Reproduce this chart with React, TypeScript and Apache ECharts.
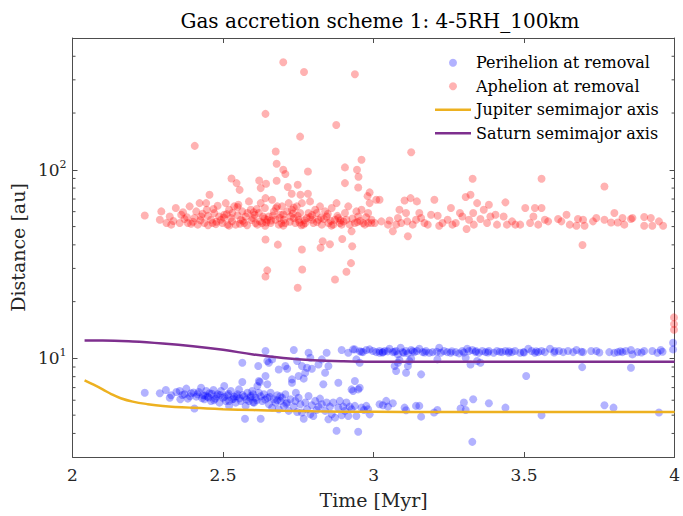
import React, { useEffect, useRef } from "react";
import * as echarts from "echarts";

const X_MIN = 2;
const X_MAX = 4;
const Y_MIN = 3;
const Y_MAX = 500;
const xTicks = [2, 2.5, 3, 3.5, 4];
const minorTickValues = [4, 5, 6, 7, 8, 9, 20, 30, 40, 50, 60, 70, 80, 90, 200, 300, 400];

const jupiterTime = [2.04, 2.07, 2.1, 2.13, 2.16, 2.2, 2.25, 2.3, 2.4, 2.5, 2.6, 2.7, 2.8, 2.9, 3.0, 3.2, 3.5, 4.0];
const jupiterA = [7.65, 7.25, 6.85, 6.45, 6.15, 5.9, 5.72, 5.6, 5.47, 5.38, 5.32, 5.27, 5.24, 5.22, 5.21, 5.2, 5.2, 5.2];

const saturnTime = [2.04, 2.1, 2.2, 2.3, 2.4, 2.5, 2.6, 2.7, 2.8, 2.9, 3.0, 3.5, 4.0];
const saturnA = [12.45, 12.45, 12.3, 12.0, 11.6, 11.1, 10.5, 10.05, 9.78, 9.65, 9.6, 9.6, 9.6];

const aphelionPoints: number[][] = [
  [2.240, 57.3], [2.295, 60.2], [2.290, 54.4], [2.312, 52.2], [2.323, 56.6], [2.328, 51.2], [2.343, 62.7], [2.356, 52.2],
  [2.361, 57.8], [2.367, 59.5], [2.383, 52.2], [2.389, 64.0], [2.394, 51.8], [2.405, 55.5], [2.411, 60.2], [2.416, 51.2],
  [2.422, 66.6], [2.427, 56.6], [2.438, 52.2], [2.444, 66.6], [2.446, 61.4], [2.455, 73.8], [2.460, 54.4], [2.465, 52.2],
  [2.471, 59.0], [2.482, 64.5], [2.487, 56.6], [2.493, 54.4], [2.498, 52.2], [2.504, 57.8], [2.509, 66.6], [2.515, 51.2],
  [2.520, 61.4], [2.526, 55.5], [2.531, 59.0], [2.537, 64.0], [2.542, 51.2], [2.551, 65.3], [2.559, 54.4], [2.564, 60.2],
  [2.570, 52.2], [2.575, 56.6], [2.581, 59.0], [2.586, 68.0], [2.592, 61.4], [2.599, 55.5], [2.608, 52.2], [2.614, 51.2],
  [2.619, 59.0], [2.625, 66.6], [2.630, 52.2], [2.633, 56.6], [2.639, 62.7], [2.641, 70.8], [2.647, 54.4], [2.652, 56.6],
  [2.658, 52.2], [2.663, 69.4], [2.669, 60.2], [2.674, 54.4], [2.680, 64.0], [2.685, 51.2], [2.691, 57.8], [2.696, 64.0],
  [2.702, 54.4], [2.707, 52.2], [2.713, 60.2], [2.718, 66.6], [2.724, 56.6], [2.729, 61.4], [2.735, 55.5], [2.740, 52.2],
  [2.745, 64.0], [2.751, 54.4], [2.756, 59.0], [2.762, 66.6], [2.767, 51.2], [2.773, 52.2], [2.778, 55.5], [2.784, 59.0],
  [2.789, 68.0], [2.795, 54.4], [2.800, 52.2], [2.806, 61.4], [2.811, 59.0], [2.817, 54.4], [2.822, 64.0], [2.828, 51.2],
  [2.839, 60.2], [2.844, 56.6], [2.850, 52.2], [2.861, 62.7], [2.866, 51.2], [2.872, 54.4], [2.877, 66.6], [2.883, 55.5],
  [2.888, 52.2], [2.894, 51.2], [2.905, 59.0], [2.910, 54.4], [2.916, 64.0], [2.921, 51.2], [2.927, 47.2], [2.938, 52.2],
  [2.943, 60.2], [2.949, 56.6], [2.960, 61.4], [2.965, 52.2], [2.971, 51.2], [2.982, 52.2], [2.993, 54.4], [3.004, 52.2],
  [3.009, 69.4],
  [2.335, 53.5], [2.372, 54.8], [2.400, 53.0], [2.425, 54.0], [2.450, 57.0], [2.478, 53.0], [2.502, 55.8], [2.530, 53.4],
  [2.548, 57.4], [2.565, 53.6], [2.595, 54.2], [2.605, 57.6], [2.622, 53.4], [2.638, 55.2], [2.660, 53.8], [2.688, 55.6],
  [2.700, 58.0], [2.722, 53.0], [2.748, 57.0], [2.770, 54.0], [2.790, 56.2], [2.812, 52.8], [2.835, 54.8], [2.858, 53.6],
  [2.880, 57.0], [2.900, 53.2], [2.930, 55.2], [2.955, 53.6], [2.975, 56.0], [2.640, 50.5], [2.580, 50.8], [2.700, 50.6],
  [2.760, 50.8], [2.520, 50.6], [2.450, 50.8], [2.860, 50.6], [2.612, 62.0], [2.548, 63.5], [2.676, 62.5], [2.735, 63.0],
  [2.468, 62.0],
  [2.380, 56.0], [2.432, 58.5], [2.476, 51.5], [2.512, 58.2], [2.556, 51.8], [2.602, 59.6], [2.644, 52.6], [2.666, 57.2],
  [2.694, 52.0], [2.732, 58.6], [2.754, 52.6], [2.796, 57.6], [2.826, 55.8], [2.848, 58.4], [2.890, 54.0], [2.946, 52.8],
  [2.545, 85.0], [2.555, 78.3], [2.643, 84.4], [2.625, 80.0], [2.678, 87.5], [2.715, 81.0], [2.728, 74.6], [2.748, 83.3],
  [2.782, 98.0], [2.757, 73.8], [2.782, 74.6], [2.905, 85.0], [2.949, 80.6], [2.980, 72.5],
  [2.641, 42.7], [2.682, 40.1], [2.762, 37.8], [2.831, 41.8], [2.824, 38.6], [2.855, 40.3], [2.896, 43.0], [2.929, 39.3],
  [2.647, 29.3], [2.641, 27.2], [2.763, 29.6], [2.925, 32.0], [2.910, 28.8], [2.872, 26.2], [2.748, 23.7],
  [2.700, 372], [2.769, 330], [2.938, 321], [2.641, 198], [2.876, 173], [2.756, 150], [2.406, 134], [3.125, 124],
  [2.675, 125], [2.960, 113], [2.678, 107.6], [2.700, 100], [2.707, 95], [2.905, 103], [2.945, 100], [2.950, 91.8],
  [2.528, 90], [2.620, 87.8],
  [2.987, 75.9], [2.987, 66.6], [2.982, 59.0], [2.993, 52.2], [3.020, 69.4], [3.026, 53.3], [3.048, 51.2], [3.053, 53.9],
  [3.064, 47.2], [3.075, 51.2], [3.081, 55.5], [3.086, 61.4], [3.092, 52.2], [3.103, 68.8], [3.108, 59.0], [3.112, 53.3],
  [3.114, 44.4], [3.123, 70.8], [3.130, 51.2], [3.141, 54.4], [3.144, 68.0], [3.152, 59.0], [3.158, 55.5], [3.169, 52.2],
  [3.180, 51.2], [3.191, 57.8], [3.202, 69.4], [3.213, 57.1], [3.218, 50.5], [3.229, 52.2], [3.246, 54.4], [3.257, 62.7],
  [3.262, 51.2], [3.273, 52.2], [3.287, 59.0], [3.295, 56.6], [3.306, 71.7], [3.309, 48.5], [3.317, 54.4], [3.322, 73.8],
  [3.331, 59.0], [3.333, 51.2], [3.344, 66.6], [3.355, 54.8], [3.366, 61.4], [3.377, 52.2], [3.383, 65.3], [3.388, 56.6],
  [3.405, 57.8], [3.410, 51.2], [3.432, 56.6], [3.438, 67.2], [3.443, 51.2], [3.460, 53.3], [3.471, 51.2], [3.487, 51.2],
  [3.504, 62.7], [3.520, 52.2], [3.531, 56.6], [3.536, 62.7], [3.547, 51.2], [3.558, 62.7], [3.569, 54.4], [3.580, 53.3],
  [3.613, 54.8], [3.624, 53.3], [3.641, 57.8], [3.652, 51.2], [3.674, 50.5], [3.679, 54.8], [3.701, 50.5], [3.696, 54.4],
  [3.729, 53.3], [3.740, 55.5], [3.767, 54.4], [3.789, 52.6], [3.800, 59.0], [3.811, 52.6], [3.827, 55.5], [3.833, 51.2],
  [3.855, 54.8], [3.860, 55.5], [3.899, 56.2], [3.899, 50.5], [3.921, 55.5], [3.926, 50.5], [3.948, 53.3], [3.962, 50.5],
  [3.329, 89.6], [3.558, 89.6], [3.767, 81.6], [3.694, 39.9],
  [3.998, 16.5], [3.998, 15.2], [3.998, 14.2],
];

const perihelionPoints: number[][] = [
  [2.240, 6.58], [2.290, 6.53], [2.310, 6.80], [2.323, 6.19], [2.328, 6.37], [2.345, 6.63], [2.356, 6.71], [2.358, 6.07],
  [2.372, 6.45], [2.378, 6.91], [2.383, 6.12], [2.394, 6.53], [2.405, 5.42], [2.411, 6.27], [2.419, 6.63], [2.427, 6.99],
  [2.433, 6.37], [2.438, 6.07], [2.444, 6.71], [2.449, 6.27], [2.455, 6.53], [2.460, 5.95], [2.468, 6.80], [2.474, 6.12],
  [2.482, 6.45], [2.488, 5.83], [2.493, 6.71], [2.499, 6.19], [2.504, 7.14], [2.509, 5.95], [2.515, 6.37], [2.520, 5.60],
  [2.526, 6.71], [2.531, 6.07], [2.537, 6.27], [2.542, 5.83], [2.548, 6.45], [2.553, 6.85], [2.559, 5.95], [2.564, 7.49],
  [2.570, 6.27], [2.573, 4.79], [2.575, 5.60], [2.581, 6.58], [2.586, 5.95], [2.592, 6.32], [2.597, 6.71], [2.603, 5.83],
  [2.608, 6.19], [2.614, 7.14], [2.619, 6.58], [2.622, 7.49], [2.625, 4.79], [2.630, 5.95], [2.636, 6.45], [2.641, 8.06],
  [2.647, 7.29], [2.647, 6.19], [2.652, 5.71], [2.658, 6.58], [2.663, 5.48], [2.669, 6.07], [2.674, 5.83], [2.680, 6.37],
  [2.685, 5.37], [2.691, 5.95], [2.696, 6.19], [2.702, 5.60], [2.707, 6.45], [2.713, 5.83], [2.718, 5.27], [2.724, 6.07],
  [2.729, 7.74], [2.735, 5.55], [2.740, 5.95], [2.742, 6.58], [2.746, 5.20], [2.751, 6.19], [2.757, 5.71], [2.762, 5.16],
  [2.768, 4.79], [2.773, 5.83], [2.779, 5.37], [2.784, 6.32], [2.790, 5.05], [2.795, 5.64], [2.800, 4.95], [2.806, 5.95],
  [2.811, 5.33], [2.817, 5.55], [2.822, 6.12], [2.828, 5.71], [2.833, 7.29], [2.839, 5.27], [2.844, 5.83], [2.850, 4.76],
  [2.855, 5.55], [2.861, 5.05], [2.866, 5.83], [2.872, 4.85], [2.877, 4.13], [2.883, 5.48], [2.888, 5.95], [2.894, 4.99],
  [2.899, 5.55], [2.905, 5.27], [2.910, 5.83], [2.916, 4.95], [2.921, 5.55], [2.927, 5.37], [2.932, 6.71], [2.938, 5.60],
  [2.943, 4.95], [2.949, 4.08], [2.954, 6.99], [2.960, 5.48], [2.968, 5.33], [2.976, 5.60], [2.982, 5.37], [2.987, 5.05],
  [3.020, 5.71], [3.031, 5.64], [3.042, 5.95],
  [2.365, 6.40], [2.390, 6.30], [2.402, 6.60], [2.415, 6.45], [2.440, 6.35], [2.452, 6.20], [2.463, 6.50], [2.478, 6.30],
  [2.490, 6.40], [2.505, 6.25], [2.518, 6.50], [2.535, 6.10], [2.545, 6.30], [2.555, 6.15], [2.565, 6.40], [2.578, 6.05],
  [2.590, 6.20], [2.600, 6.45], [2.612, 6.00], [2.625, 6.30], [2.640, 6.05], [2.655, 6.25], [2.470, 6.00], [2.430, 6.15],
  [2.520, 5.95], [2.600, 5.85], [2.680, 6.00], [2.710, 5.75], [2.690, 6.30],
  [2.564, 9.49], [2.617, 9.11], [2.641, 10.94], [2.647, 9.68], [2.619, 7.59], [2.652, 9.49], [2.663, 9.88], [2.685, 8.74],
  [2.707, 9.11], [2.713, 8.82], [2.729, 7.43], [2.735, 11.07], [2.746, 9.68], [2.751, 8.06], [2.762, 9.11], [2.768, 7.81],
  [2.773, 8.40], [2.779, 8.92], [2.784, 10.71], [2.790, 10.08], [2.795, 8.82], [2.817, 9.29], [2.828, 9.88], [2.839, 8.40],
  [2.844, 10.71], [2.850, 9.11], [2.883, 7.43], [2.894, 11.07], [2.916, 10.71], [2.927, 6.85], [2.932, 11.16], [2.938, 7.59],
  [2.943, 9.88], [2.949, 6.85], [2.954, 9.49], [2.960, 10.84],
  [2.938, 11.16], [2.954, 10.9], [2.965, 10.80], [2.976, 11.07], [2.987, 11.16], [2.998, 10.94], [3.009, 10.80], [3.020, 10.94],
  [3.031, 10.80], [3.047, 10.9],
  [3.020, 10.71], [3.037, 10.94], [3.053, 11.25], [3.064, 10.80], [3.075, 10.94], [3.081, 10.50], [3.090, 11.39], [3.097, 10.80],
  [3.108, 10.94], [3.114, 10.63], [3.125, 11.07], [3.136, 10.80], [3.144, 10.94], [3.152, 11.25], [3.163, 10.80], [3.174, 10.94],
  [3.185, 10.71], [3.196, 10.80], [3.218, 11.39], [3.223, 10.71], [3.234, 10.94], [3.245, 10.80], [3.256, 10.71], [3.273, 10.80],
  [3.284, 10.63], [3.295, 10.94], [3.311, 11.25], [3.317, 10.94], [3.328, 11.07], [3.339, 10.80], [3.350, 10.71], [3.361, 10.94],
  [3.372, 10.80], [3.383, 10.94], [3.399, 10.71], [3.410, 10.94], [3.427, 10.80], [3.438, 10.94], [3.449, 10.71], [3.460, 10.80],
  [3.470, 10.94], [3.487, 10.71], [3.498, 10.80], [3.514, 11.25], [3.525, 10.94], [3.536, 10.71], [3.547, 10.80], [3.558, 10.94],
  [3.569, 10.80], [3.586, 11.25], [3.602, 10.94], [3.616, 10.94], [3.630, 10.80], [3.646, 10.94], [3.663, 10.80], [3.674, 11.07],
  [3.696, 10.80], [3.723, 10.94], [3.740, 10.94], [3.783, 10.80], [3.800, 10.71], [3.811, 10.80], [3.827, 10.80], [3.838, 10.94],
  [3.855, 11.07], [3.860, 10.50], [3.877, 10.80], [3.899, 10.94], [3.926, 10.94], [3.943, 10.71], [3.954, 11.07], [3.995, 12.1],
  [3.995, 11.16],
  [3.03, 10.75], [3.07, 10.85], [3.10, 10.7], [3.13, 10.9], [3.17, 10.75], [3.21, 10.85], [3.26, 10.9], [3.30, 10.75],
  [3.34, 10.95], [3.38, 10.75], [3.42, 10.85], [3.45, 10.9], [3.50, 10.75], [3.54, 10.9], [3.60, 10.75], [3.69, 10.85],
  [3.75, 10.75], [3.82, 10.9], [3.89, 10.75], [3.96, 10.85],
  [3.070, 9.11], [3.075, 8.57], [3.081, 9.49], [3.086, 9.80], [3.108, 8.40], [3.114, 9.11], [3.119, 9.68], [3.125, 9.96],
  [3.158, 8.23], [3.212, 9.88], [3.306, 10.08], [3.322, 9.29], [3.344, 9.68], [3.355, 9.49], [3.507, 8.06], [3.693, 8.99],
  [3.855, 8.92],
  [3.048, 5.55], [3.064, 5.78], [3.103, 5.48], [3.108, 5.31], [3.141, 5.60], [3.152, 5.60], [3.158, 4.91], [3.201, 5.16],
  [3.212, 5.33], [3.289, 5.42], [3.300, 5.83], [3.306, 5.33], [3.331, 6.07], [3.328, 3.61], [3.383, 5.78], [3.438, 5.48],
  [3.558, 4.99], [3.767, 5.64], [3.797, 5.48], [3.948, 5.16],
];

const FONT = "'DejaVu Serif', 'Liberation Serif', serif";
const AXIS_COLOR = "#4d4d4d";
const TEXT_COLOR = "#262626";
const LINE_ICON = "path://M0,0 L36,0 L36,2.5 L0,2.5 Z";

export default function App() {
  const ref = useRef<HTMLDivElement>(null);

  useEffect(() => {
    if (!ref.current) return;
    const chart = echarts.init(ref.current, undefined, { renderer: "svg" });

    const tickStyle = { show: true, inside: true, length: 5, lineStyle: { color: AXIS_COLOR, width: 1 } };
    const lineStyleAxis = { show: true, onZero: false, lineStyle: { color: AXIS_COLOR, width: 1 } };

    const option: any = {
      animation: false,
      backgroundColor: "#ffffff",
      title: {
        text: "Gas accretion scheme 1: 4-5RH_100km",
        left: 375,
        textAlign: "center",
        top: 6,
        textStyle: { fontFamily: FONT, fontSize: 20, fontWeight: "normal", color: "#000" },
      },
      legend: {
        orient: "vertical",
        left: 435,
        top: 52,
        padding: 0,
        itemWidth: 36,
        itemHeight: 8,
        itemGap: 2,
        textStyle: { fontFamily: FONT, fontSize: 16, color: "#000", lineHeight: 21.5 },
        data: [
          { name: "Perihelion at removal", icon: "circle" },
          { name: "Aphelion at removal", icon: "circle" },
          { name: "Jupiter semimajor axis", icon: LINE_ICON },
          { name: "Saturn semimajor axis", icon: LINE_ICON },
        ],
      },
      grid: { left: 72, right: 5, top: 38, bottom: 59, containLabel: false },
      xAxis: [
        {
          type: "value",
          min: X_MIN,
          max: X_MAX,
          interval: 0.5,
          position: "bottom",
          axisLine: lineStyleAxis,
          axisTick: tickStyle,
          splitLine: { show: false },
          axisLabel: {
            margin: 9,
            fontFamily: FONT,
            fontSize: 17,
            color: TEXT_COLOR,
            formatter: (v: number) => (xTicks.includes(v) ? String(v) : ""),
          },
          name: "Time [Myr]",
          nameLocation: "middle",
          nameGap: 33,
          nameTextStyle: { fontFamily: FONT, fontSize: 19, color: TEXT_COLOR },
        },
        {
          type: "value",
          min: X_MIN,
          max: X_MAX,
          interval: 0.5,
          position: "top",
          axisLine: lineStyleAxis,
          axisTick: tickStyle,
          axisLabel: { show: false },
          splitLine: { show: false },
        },
      ],
      yAxis: [
        {
          type: "log",
          logBase: 10,
          min: Y_MIN,
          max: Y_MAX,
          position: "left",
          axisLine: lineStyleAxis,
          axisTick: tickStyle,
          splitLine: { show: false },
          axisLabel: {
            margin: 6,
            showMinLabel: false,
            showMaxLabel: false,
            fontFamily: FONT,
            color: TEXT_COLOR,
            formatter: (v: number) => {
              const e = Math.log10(v);
              if (Math.abs(e - Math.round(e)) > 1e-6) return "";
              return "{b|10}{s|" + Math.round(e) + "}";
            },
            rich: {
              b: { fontFamily: FONT, fontSize: 17, color: TEXT_COLOR, lineHeight: 22 },
              s: { fontFamily: FONT, fontSize: 11, color: TEXT_COLOR, lineHeight: 11, verticalAlign: "top" },
            },
          },
          name: "Distance [au]",
          nameLocation: "middle",
          nameGap: 42,
          nameTextStyle: { fontFamily: FONT, fontSize: 19, color: TEXT_COLOR },
        },
        {
          type: "log",
          logBase: 10,
          min: Y_MIN,
          max: Y_MAX,
          position: "right",
          axisLine: lineStyleAxis,
          axisTick: tickStyle,
          axisLabel: { show: false },
          splitLine: { show: false },
        },
      ],
      series: [
        {
          name: "Perihelion at removal",
          type: "scatter",
          xAxisIndex: 0,
          yAxisIndex: 0,
          symbol: "circle",
          symbolSize: 8,
          itemStyle: { color: "#0000ff", opacity: 0.3 },
          data: perihelionPoints,
        },
        {
          name: "Aphelion at removal",
          type: "scatter",
          xAxisIndex: 0,
          yAxisIndex: 0,
          symbol: "circle",
          symbolSize: 8,
          itemStyle: { color: "#ff0000", opacity: 0.3 },
          data: aphelionPoints,
        },
        {
          name: "Jupiter semimajor axis",
          type: "line",
          xAxisIndex: 0,
          yAxisIndex: 0,
          symbol: "none",
          showSymbol: false,
          smooth: 0.4,
          lineStyle: { color: "#EDB120", width: 2.5 },
          itemStyle: { color: "#EDB120" },
          data: jupiterTime.map((t, i) => [t, jupiterA[i]]),
        },
        {
          name: "Saturn semimajor axis",
          type: "line",
          xAxisIndex: 0,
          yAxisIndex: 0,
          symbol: "none",
          showSymbol: false,
          smooth: 0.4,
          lineStyle: { color: "#7E2F8E", width: 2.5 },
          itemStyle: { color: "#7E2F8E" },
          data: saturnTime.map((t, i) => [t, saturnA[i]]),
        },
        {
          type: "custom",
          xAxisIndex: 0,
          yAxisIndex: 0,
          silent: true,
          clip: false,
          encode: { x: 0, y: 1 },
          data: minorTickValues.map((v) => [X_MIN, v]),
          renderItem: (_params: any, api: any) => {
            const v = api.value(1);
            const l = api.coord([X_MIN, v]);
            const r = api.coord([X_MAX, v]);
            return {
              type: "group",
              children: [
                { type: "line", shape: { x1: l[0], y1: l[1], x2: l[0] + 3, y2: l[1] }, style: { stroke: AXIS_COLOR, lineWidth: 1 } },
                { type: "line", shape: { x1: r[0] - 3, y1: r[1], x2: r[0], y2: r[1] }, style: { stroke: AXIS_COLOR, lineWidth: 1 } },
              ],
            };
          },
        },
      ],
    };

    chart.setOption(option);
    return () => chart.dispose();
  }, []);

  return (
    <div
      ref={ref}
      style={{ position: "fixed", left: 0, top: 0, width: 683, height: 516, background: "#fff" }}
    />
  );
}
